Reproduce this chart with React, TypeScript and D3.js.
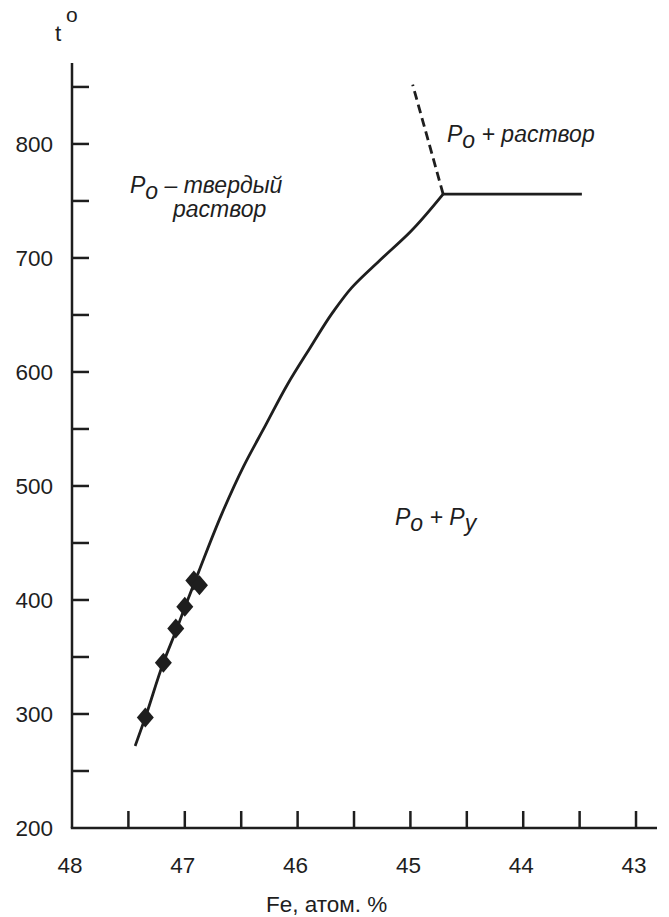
import React from "react";
import * as d3 from "d3";

// Phase boundary Po-solid solution / Po + Py (Fe at.%, temperature)
const boundaryFe = [47.44, 47.35, 47.19, 47.07, 46.99, 46.88, 46.67, 46.48, 46.28, 46.09, 45.89, 45.69, 45.52, 45.27, 45.0, 44.71];
const boundaryT = [272, 297, 345, 375, 396, 424, 476, 517, 554, 589, 621, 652, 674, 698, 723, 756];

// Experimental points
const pointFe = [47.35, 47.19, 47.08, 47.0, 46.92, 46.87];
const pointT = [297, 345, 375, 394, 417, 413];

// Boundaries leaving the triple point
const dashedFe = [44.71, 44.98];
const dashedT = [756, 852];
const eutecticFe = [44.71, 43.48];
const eutecticT = [756, 756];

const xTicks = [48, 47.5, 47, 46.5, 46, 45.5, 45, 44.5, 44, 43.5, 43];
const xLabels = [48, 47, 46, 45, 44, 43];
const yTicks = [250, 300, 350, 400, 450, 500, 550, 600, 650, 700, 750, 800, 850];
const yLabels = [200, 300, 400, 500, 600, 700, 800];

const W = 669;
const H = 917;
const INK = "#1e1e1e";
const FONT = "'Liberation Sans', Arial, Helvetica, sans-serif";

export default function App() {
  const x = d3.scaleLinear().domain([48, 42.814]).range([72, 657]);
  const y = d3.scaleLinear().domain([200, 871]).range([828, 63]);

  const line = d3
    .line<[number, number]>()
    .x((d) => x(d[0]))
    .y((d) => y(d[1]))
    .curve(d3.curveMonotoneY);
  const straight = d3
    .line<[number, number]>()
    .x((d) => x(d[0]))
    .y((d) => y(d[1]));

  const zip = (a: number[], b: number[]) => a.map((v, i) => [v, b[i]] as [number, number]);

  // slightly tall diamond marker
  const hw = 8.5;
  const hh = 10;
  const diamond = `M0,${-hh}L${hw},0L0,${hh}L${-hw},0Z`;

  const tick = 17;

  return (
    <svg
      width={W}
      height={H}
      style={{ position: "absolute", left: 0, top: 0, background: "#fff" }}
      fontFamily={FONT}
    >
      <rect x={0} y={0} width={W} height={H} fill="#fff" />

      {/* axes */}
      <line x1={x.range()[0]} x2={x.range()[0]} y1={y(871)} y2={y(200)} stroke={INK} strokeWidth={2.5} />
      <line x1={x.range()[0] - 1.2} x2={x.range()[1]} y1={y(200)} y2={y(200)} stroke={INK} strokeWidth={2.5} />

      {yTicks.map((t) => (
        <line key={"yt" + t} x1={x(48)} x2={x(48) + tick} y1={y(t)} y2={y(t)} stroke={INK} strokeWidth={2.5} />
      ))}
      {xTicks.filter((t) => t !== 48).map((t) => (
        <line key={"xt" + t} x1={x(t)} x2={x(t)} y1={y(200)} y2={y(200) - tick} stroke={INK} strokeWidth={2.5} />
      ))}

      {yLabels.map((t) => (
        <text key={"yl" + t} x={53} y={y(t) + 8} textAnchor="end" fontSize={22.5} fill={INK}>
          {t}
        </text>
      ))}
      {xLabels.map((t) => (
        <text key={"xl" + t} x={x(t) - 2} y={873} textAnchor="middle" fontSize={22.5} fill={INK}>
          {t}
        </text>
      ))}

      {/* axis titles */}
      <text x={55} y={41} fontSize={22.5} fill={INK}>
        t
      </text>
      <text x={66} y={22} fontSize={21} fill={INK}>
        o
      </text>
      <text x={266} y={912} fontSize={22.5} fill={INK}>
        Fe, атом. %
      </text>

      {/* phase boundaries */}
      <path d={line(zip(boundaryFe, boundaryT)) ?? ""} fill="none" stroke={INK} strokeWidth={2.8} strokeLinejoin="round" />
      <path d={straight(zip(eutecticFe, eutecticT)) ?? ""} fill="none" stroke={INK} strokeWidth={2.8} />
      <path
        d={straight(zip(dashedFe, dashedT)) ?? ""}
        fill="none"
        stroke={INK}
        strokeWidth={2.8}
        strokeDasharray="9 5"
      />

      {/* experimental points */}
      {pointFe.map((fe, i) => (
        <path key={"p" + i} d={diamond} transform={`translate(${x(fe)},${y(pointT[i])})`} fill={INK} />
      ))}

      {/* phase field labels */}
      <g fontStyle="italic" fontSize={23} fill={INK}>
        <text x={130} y={193}>
          P<tspan dy={6}>o</tspan>
          <tspan dy={-6}> – твердый</tspan>
        </text>
        <text x={173} y={217}>раствор</text>

        <text x={447} y={142}>
          P<tspan dy={6}>o</tspan>
          <tspan dy={-6}> + раствор</tspan>
        </text>

        <text x={395} y={525}>
          P<tspan dy={6}>o</tspan>
          <tspan dy={-6}> + P</tspan>
          <tspan dy={6}>y</tspan>
        </text>
      </g>
    </svg>
  );
}
